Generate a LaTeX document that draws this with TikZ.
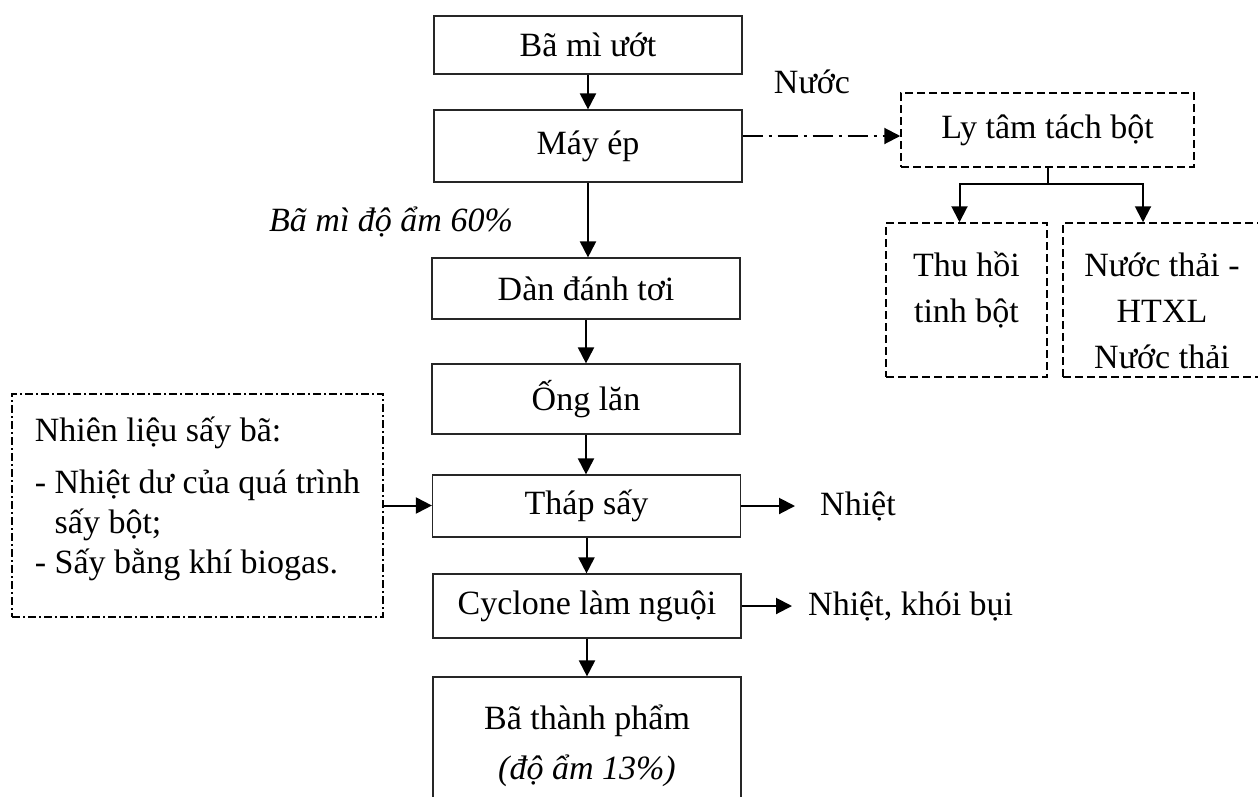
\documentclass[tikz,border=0pt]{standalone}
\usepackage{fontspec}
\setmainfont{Liberation Serif}
\usetikzlibrary{arrows.meta,positioning}

\begin{document}
\begin{tikzpicture}[x=1pt, y=-1pt,
  box/.style={draw=black!85, line width=1.2pt, align=center, inner sep=0pt,
              minimum width=308pt, font=\fontsize{34}{40}\selectfont},
  dbox/.style={box, draw=black, line width=1.5pt, dash pattern=on 8pt off 4pt,
               font=\fontsize{34}{46}\selectfont},
  ddbox/.style={box, draw=black, line width=1.3pt, dash pattern=on 8pt off 3pt on 2pt off 3pt},
  txt/.style={inner sep=0pt, font=\fontsize{34}{40}\selectfont},
  arrow/.style={-{Triangle[length=16pt,width=16pt]}, line width=2pt},
  ddarrow/.style={arrow, dash pattern=on 20pt off 6pt on 3pt off 6pt}
]
  \useasboundingbox (0,0) rectangle (1258,796);

  \node[box, minimum height=58pt] (wet) at (588,45) {Bã mì ướt};
  \node[box, minimum height=72pt] (press) at (588,146) {Máy ép};
  \node[box, minimum height=61pt] (loose) at (586,288.5) {Dàn đánh tơi};
  \node[box, minimum height=70pt] (roll) at (586,399) {Ống lăn};
  \node[box, minimum height=62pt] (dryer) at (586.5,506) {Tháp sấy};
  \node[box, minimum height=64pt] (cool) at (587,606) {Cyclone làm nguội};
  \node[box, minimum height=138pt] (product) at (587,746)
    {Bã thành phẩm\\[10pt]\textit{(độ ẩm 13\%)}};

  \node[txt, font=\fontsize{34}{40}\selectfont\itshape] (moist) at (391,222) {Bã mì độ ẩm 60\%};
  \node[txt] (water) at (812,82) {Nước};
  \node[txt, anchor=west] (heat) at (820,506) {Nhiệt};
  \node[txt, anchor=west] (dust) at (808,606) {Nhiệt, khói bụi};

  \node[dbox, minimum width=293pt, minimum height=74pt] (sep) at (1047.5,130) {Ly tâm tách bột};
  \node[dbox, minimum width=161pt, minimum height=154pt] (starch) at (966.5,300)
    {\rule{0pt}{45pt}Thu hồi\\tinh bột\\~};
  \node[dbox, minimum width=198pt, minimum height=154pt] (waste) at (1162,300)
    {\rule{0pt}{45pt}Nước thải -\\HTXL\\Nước thải};

  \node[ddbox, minimum width=371pt, minimum height=223pt, align=left] (fuel) at (197.5,505.5)
    {Nhiên liệu sấy bã:\\[12pt]- Nhiệt dư của quá trình\\\phantom{- }sấy bột;\\- Sấy bằng khí biogas.\rule[-20pt]{0pt}{0pt}};

  \draw[arrow] (wet) -- (press);
  \draw[arrow] (press) -- (press |- loose.north);
  \draw[arrow] (loose) -- (loose |- roll.north);
  \draw[arrow] (roll) -- (roll |- dryer.north);
  \draw[arrow] (dryer) -- (dryer |- cool.north);
  \draw[arrow] (cool) -- (cool |- product.north);

  \draw[arrow] (fuel) -- (fuel -| dryer.west);
  \draw[arrow] (dryer.east) -- ([xshift=-25pt]heat.west);
  \draw[arrow] (cool.east) -- ([xshift=-16pt]dust.west);

  \coordinate (pout) at ([yshift=10pt]press.east);
  \draw[ddarrow] (pout) -- (pout -| sep.west);

  \coordinate (split) at ([yshift=-16pt]sep.south);
  \draw[line width=2pt] (sep.south) -- (split);
  \draw[arrow] (split) -| ([xshift=-7pt]starch.north);
  \draw[arrow] (split) -| ([xshift=-19pt]waste.north);
\end{tikzpicture}
\end{document}
